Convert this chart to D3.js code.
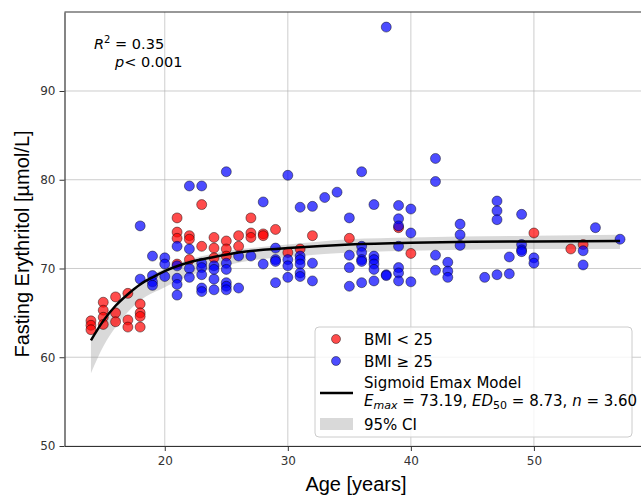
<!DOCTYPE html>
<html>
<head>
<meta charset="utf-8">
<script src="https://cdn.jsdelivr.net/npm/d3@7"></script>
<style>
  html, body { margin: 0; padding: 0; background: #fff; }
  svg { display: block; }
</style>
</head>
<body>
<div id="chart"></div>
<script>
// BMI < 25 (red)
const lowAges = [14, 14, 14, 15, 15, 15, 15, 16, 16, 16, 17, 17, 17, 18, 18, 18, 18,
  21, 21, 21, 21, 22, 22, 22, 23, 23, 24, 24, 24, 25, 25, 25, 26, 26, 27, 27, 27,
  28, 28, 29, 30, 31, 32, 35, 39, 40, 50, 53, 54];
const lowValues = [64.1, 63.6, 63.1, 66.2, 65.3, 64.5, 63.7, 66.8, 65.0, 64.0, 67.2, 64.2, 63.4, 66.0, 65.0, 64.6, 63.4,
  75.7, 74.1, 73.4, 70.5, 73.7, 73.3, 71.0, 77.2, 72.5, 73.5, 72.3, 71.2, 73.1, 72.2, 71.4, 73.7, 72.5, 75.7, 74.0, 73.5,
  73.9, 73.7, 74.4, 71.8, 72.2, 73.7, 73.4, 74.6, 71.7, 74.0, 72.2, 72.7];

// BMI >= 25 (blue)
const highAges = [18, 18, 19, 19, 19, 19, 20, 20, 20, 21, 21, 21, 21, 21,
  22, 22, 22, 22, 23, 23, 23, 23, 23, 23, 24, 24, 24, 24, 25, 25, 25, 25, 25, 25,
  26, 26, 27, 28, 28, 29, 29, 29, 29, 30, 30, 30, 30, 31, 31, 31, 31, 31, 31,
  32, 32, 32, 33, 34, 35, 35, 35, 35, 36, 36, 36, 36, 36, 36, 37, 37, 37, 37, 37, 37,
  38, 38, 38, 39, 39, 39, 39, 39, 39, 39, 40, 40, 40, 42, 42, 42, 42, 43, 43, 43,
  44, 44, 44, 46, 47, 47, 47, 47, 48, 48, 49, 49, 49, 49, 50, 50, 54, 54, 55, 57];
const highValues = [74.8, 68.8, 71.4, 69.2, 68.5, 68.1, 71.2, 70.5, 69.1, 72.5, 70.3, 68.9, 68.2, 67.0,
  79.3, 72.2, 70.0, 69.0, 79.3, 70.6, 70.1, 69.3, 67.8, 67.4, 70.3, 69.9, 68.8, 67.6, 80.9, 70.6, 69.9, 68.4, 68.0, 67.6,
  71.4, 67.8, 71.4, 77.5, 70.5, 72.3, 71.0, 70.8, 68.4, 80.5, 71.0, 70.3, 69.0, 76.9, 71.4, 71.0, 70.5, 69.5, 69.1,
  77.0, 70.6, 68.6, 78.0, 78.6, 75.7, 71.5, 70.1, 68.0, 80.9, 72.5, 71.8, 71.0, 70.8, 68.4, 77.2, 71.4, 71.0, 70.5, 69.9, 68.6,
  97.2, 69.3, 69.2, 77.1, 75.6, 74.8, 72.5, 70.1, 69.5, 68.6, 76.7, 74.0, 68.5, 82.4, 79.8, 71.5, 69.8, 70.7, 69.7, 69.0,
  75.0, 73.8, 72.6, 69.0, 77.6, 76.5, 75.5, 69.3, 71.3, 69.4, 76.1, 72.7, 72.1, 71.9, 71.2, 70.6, 72.0, 70.4, 74.6, 73.3];

// fitted sigmoid Emax curve
const fitAges = [14, 15, 16, 17, 18, 19, 20, 22, 24, 26, 28, 30, 35, 40, 45, 50, 57];
const fitValues = [61.9, 64.1, 65.8, 67.1, 68.2, 69.0, 69.7, 70.7, 71.3, 71.8, 72.1, 72.3, 72.7, 72.9, 73.0, 73.05, 73.1];

// 95% CI band
const ciAges = [14, 15, 16, 17, 18, 20, 22, 24, 27, 30, 35, 40, 50, 57];
const ciLower = [58.2, 61.2, 63.4, 65.1, 66.4, 67.9, 69.2, 70.0, 70.9, 71.3, 71.8, 72.0, 72.2, 72.2];
const ciUpper = [62.2, 64.3, 66.0, 67.3, 68.4, 70.0, 71.0, 71.7, 72.3, 72.7, 73.3, 73.5, 73.7, 73.8];

const xTicks = [20, 30, 40, 50];
const yTicks = [50, 60, 70, 80, 90];

const W = 641, H = 496;
const margin = {top: 12, right: 0, bottom: 50, left: 64.5};
const plotRight = 646.5;

const svg = d3.select("#chart").append("svg")
  .attr("width", W)
  .attr("height", H)
  .attr("viewBox", `0 0 ${W} ${H}`);

const x = d3.scaleLinear().domain([11.85, 59.15]).range([margin.left, plotRight]);
const y = d3.scaleLinear().domain([50, 98.9]).range([446, margin.top]);

// grid
svg.append("g").selectAll("line.gx")
  .data(xTicks).join("line")
  .attr("x1", d => x(d)).attr("x2", d => x(d))
  .attr("y1", y(50)).attr("y2", y(98.9))
  .attr("stroke", "#b0b0b0").attr("stroke-width", 0.8).attr("stroke-opacity", 0.8);
svg.append("g").selectAll("line.gy")
  .data(yTicks).join("line")
  .attr("x1", x(11.85)).attr("x2", x(59.15))
  .attr("y1", d => y(d)).attr("y2", d => y(d))
  .attr("stroke", "#b0b0b0").attr("stroke-width", 0.8).attr("stroke-opacity", 0.8);

// CI band
const band = d3.area()
  .x((d, i) => x(ciAges[i]))
  .y0((d, i) => y(ciLower[i]))
  .y1((d, i) => y(ciUpper[i]))
  .curve(d3.curveMonotoneX);
svg.append("path")
  .datum(ciAges)
  .attr("d", band)
  .attr("fill", "#a0a0a0")
  .attr("fill-opacity", 0.4);

// scatter
const low = lowAges.map((a, i) => [a, lowValues[i]]);
const high = highAges.map((a, i) => [a, highValues[i]]);

svg.append("g").selectAll("circle")
  .data(low).join("circle")
  .attr("cx", d => x(d[0]))
  .attr("cy", d => y(d[1]))
  .attr("r", 5)
  .attr("fill", "#ff0000").attr("fill-opacity", 0.7)
  .attr("stroke", "#000").attr("stroke-opacity", 0.55).attr("stroke-width", 0.8);

svg.append("g").selectAll("circle")
  .data(high).join("circle")
  .attr("cx", d => x(d[0]))
  .attr("cy", d => y(d[1]))
  .attr("r", 5)
  .attr("fill", "#0000ff").attr("fill-opacity", 0.7)
  .attr("stroke", "#000").attr("stroke-opacity", 0.55).attr("stroke-width", 0.8);

// fit line
const line = d3.line()
  .x((d, i) => x(fitAges[i]))
  .y((d, i) => y(fitValues[i]))
  .curve(d3.curveMonotoneX);
svg.append("path")
  .datum(fitAges)
  .attr("d", line)
  .attr("fill", "none")
  .attr("stroke", "#000")
  .attr("stroke-width", 2.5);

// axes
const xAxis = svg.append("g")
  .attr("transform", `translate(0,${y(50)})`)
  .call(d3.axisBottom(x).tickValues(xTicks).tickSize(5).tickPadding(5).tickSizeOuter(0));
const yAxis = svg.append("g")
  .attr("transform", `translate(${margin.left},0)`)
  .call(d3.axisLeft(y).tickValues(yTicks).tickSize(5).tickPadding(4).tickSizeOuter(0));
[xAxis, yAxis].forEach(g => {
  g.selectAll("text").attr("font-family", "DejaVu Sans").attr("font-size", 12).attr("fill", "#333");
  g.selectAll("line").attr("stroke", "#333");
  g.select(".domain").attr("stroke", "#333").attr("stroke-width", 1.2);
});
// top spine
svg.append("line")
  .attr("x1", margin.left).attr("x2", plotRight)
  .attr("y1", y(98.9)).attr("y2", y(98.9))
  .attr("stroke", "#333").attr("stroke-width", 1.2);

// axis labels
svg.append("text")
  .attr("x", 356).attr("y", 491)
  .attr("text-anchor", "middle")
  .attr("font-family", "Liberation Sans, Arial, sans-serif")
  .attr("font-size", 20)
  .text("Age [years]");
svg.append("text")
  .attr("transform", "rotate(-90)")
  .attr("x", -244).attr("y", 29)
  .attr("text-anchor", "middle")
  .attr("font-family", "Liberation Sans, Arial, sans-serif")
  .attr("font-size", 20)
  .text("Fasting Erythritol [µmol/L]");

// annotation
const ann = svg.append("g").attr("font-family", "DejaVu Sans").attr("font-size", 14.5);
const t1 = ann.append("text").attr("x", 94).attr("y", 49);
t1.append("tspan").attr("font-style", "italic").text("R");
t1.append("tspan").attr("font-size", 10).attr("dy", -6).text("2");
t1.append("tspan").attr("dy", 6).text(" = 0.35");
const t2 = ann.append("text").attr("x", 115).attr("y", 66.5);
t2.append("tspan").attr("font-style", "italic").text("p");
t2.append("tspan").text("< 0.001");

// legend
const lg = svg.append("g").attr("font-family", "DejaVu Sans").attr("font-size", 15);
lg.append("rect")
  .attr("x", 315).attr("y", 327).attr("width", 317).attr("height", 110).attr("rx", 4)
  .attr("fill", "#fff").attr("fill-opacity", 0.8)
  .attr("stroke", "#ccc").attr("stroke-width", 1);
lg.append("circle").attr("cx", 336).attr("cy", 339).attr("r", 4.5)
  .attr("fill", "#ff0000").attr("fill-opacity", 0.7)
  .attr("stroke", "#000").attr("stroke-opacity", 0.55).attr("stroke-width", 0.8);
lg.append("text").attr("x", 364).attr("y", 344.5).text("BMI < 25");
lg.append("circle").attr("cx", 336).attr("cy", 361).attr("r", 4.5)
  .attr("fill", "#0000ff").attr("fill-opacity", 0.7)
  .attr("stroke", "#000").attr("stroke-opacity", 0.55).attr("stroke-width", 0.8);
lg.append("text").attr("x", 364).attr("y", 366.5).text("BMI ≥ 25");
lg.append("line").attr("x1", 320).attr("x2", 353).attr("y1", 393).attr("y2", 393)
  .attr("stroke", "#000").attr("stroke-width", 2.5);
lg.append("text").attr("x", 364).attr("y", 387.5).text("Sigmoid Emax Model");
const m = lg.append("text").attr("x", 364).attr("y", 405.5);
m.append("tspan").attr("font-style", "italic").text("E");
m.append("tspan").attr("font-style", "italic").attr("font-size", 11).attr("dy", 3).text("max");
m.append("tspan").attr("dy", -3).text(" = 73.19, ");
m.append("tspan").attr("font-style", "italic").text("ED");
m.append("tspan").attr("font-size", 11).attr("dy", 3).text("50");
m.append("tspan").attr("dy", -3).text(" = 8.73, ");
m.append("tspan").attr("font-style", "italic").text("n");
m.append("tspan").text(" = 3.60");
lg.append("rect").attr("x", 320).attr("y", 418).attr("width", 33).attr("height", 12)
  .attr("fill", "#a0a0a0").attr("fill-opacity", 0.4);
lg.append("text").attr("x", 364).attr("y", 430).text("95% CI");
</script>
</body>
</html>
